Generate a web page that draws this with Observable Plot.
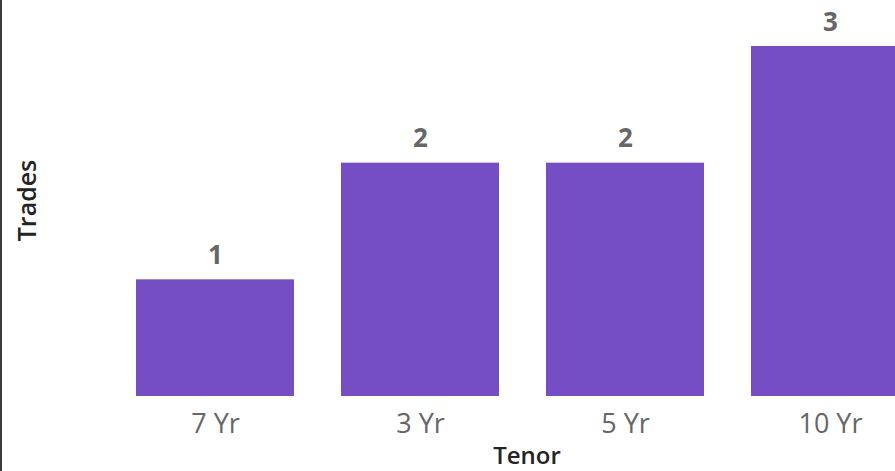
<!DOCTYPE html>
<html>
<head>
<meta charset="utf-8">
<script src="https://cdn.jsdelivr.net/npm/d3@7"></script>
<script src="https://cdn.jsdelivr.net/npm/@observablehq/plot@0.6"></script>
<style>
  html, body { margin: 0; padding: 0; background: #fff; }
  #wrap { position: relative; width: 895px; height: 471px; overflow: hidden; }
  #wrap::before { content: ""; position: absolute; left: 0; top: 0; width: 2px; height: 471px; background: #3c3c3c; z-index: 2; }
  svg { display: block; font-family: "Open Sans", sans-serif; }
</style>
</head>
<body>
<div id="wrap"></div>
<script>
const tenors = ["7 Yr", "3 Yr", "5 Yr", "10 Yr"];
const trades = [1, 2, 2, 3];
const xTitle = "Tenor";
const yTitle = "Trades";

const data = tenors.map((t, i) => ({tenor: t, trades: trades[i]}));

const chart = Plot.plot({
  width: 895,
  height: 471,
  marginTop: 0,
  marginLeft: 0,
  marginRight: 0,
  marginBottom: 75,
  style: {fontFamily: "Open Sans, sans-serif", background: "#fff"},
  x: {domain: tenors, range: [88, 957], padding: 0.229, align: 0.5, axis: null},
  y: {domain: [0, 3], range: [396, 46], axis: null},
  marks: [
    Plot.barY(data, {x: "tenor", y: "trades", fill: "#744EC2"}),
    Plot.text(data, {x: "tenor", y: "trades", text: d => String(d.trades), dy: -24,
      fontSize: 26, fontWeight: "bold", fill: "#666666"}),
    Plot.axisX({anchor: "bottom", tickSize: 0, tickPadding: 17, fontSize: 27, color: "#666666", label: null}),
    Plot.text([xTitle], {frameAnchor: "bottom", dx: 79, dy: 50, lineAnchor: "top", fontSize: 24, fontWeight: 600, fill: "#252423"}),
    Plot.text([yTitle], {frameAnchor: "left", rotate: -90, textAnchor: "middle", dx: 27, dy: 2, fontSize: 25, fontWeight: 600, fill: "#252423"})
  ]
});
document.getElementById("wrap").appendChild(chart);
</script>
</body>
</html>
